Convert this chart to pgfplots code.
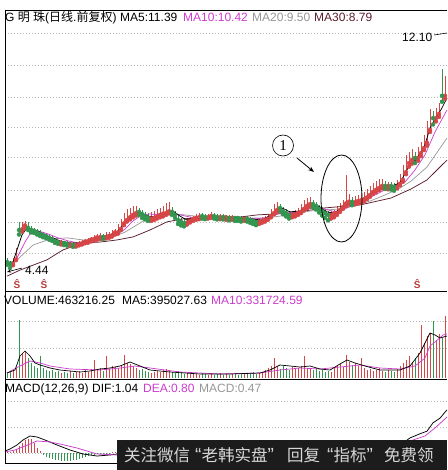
\documentclass[border=0pt]{standalone}
\usepackage{pgfplots}
\pgfplotsset{compat=1.18}
\usepackage{pgfplotstable}
\usepackage{fontspec}
\setmainfont{Liberation Sans}
\newfontfamily\cjk{Noto Sans CJK SC}
\newfontfamily\serifone{Liberation Serif}
\usetikzlibrary{arrows.meta}
\definecolor{candR}{RGB}{215,70,70}
\definecolor{candG}{RGB}{50,150,80}
\definecolor{maMag}{RGB}{204,60,204}
\definecolor{maGray}{RGB}{150,150,150}
\definecolor{maMar}{RGB}{90,30,45}
\definecolor{gridc}{RGB}{185,185,185}
\definecolor{wmbg}{RGB}{28,28,28}
\definecolor{wmtx}{RGB}{215,215,215}
\newcommand\tf{\fontsize{12}{12}\selectfont}

\pgfplotstableread{
i o c h l v m
0 4.70 4.64 4.78 4.55 40 0.02
1 4.62 4.57 4.66 4.44 48 0.02
2 4.57 4.70 4.76 4.53 64 0.04
3 4.72 5.04 5.10 4.70 80 0.08
4 5.85 5.70 5.95 5.55 464 0.13
5 5.72 5.83 5.98 5.65 200 0.19
6 5.85 5.87 6.00 5.75 216 0.25
7 5.90 5.77 5.95 5.70 160 0.27
8 5.78 5.70 5.82 5.62 120 0.27
9 5.74 5.67 5.78 5.60 96 0.19
10 5.70 5.63 5.74 5.55 80 0.10
11 5.66 5.57 5.70 5.50 176 0.04
12 5.58 5.53 5.62 5.46 80 -0.04
13 5.55 5.50 5.60 5.43 64 -0.08
14 5.52 5.44 5.56 5.38 56 -0.10
15 5.46 5.40 5.50 5.34 64 -0.12
16 5.40 5.33 5.45 5.27 48 -0.13
17 5.33 5.30 5.38 5.24 56 -0.13
18 5.28 5.30 5.36 5.22 40 -0.15
19 5.31 5.27 5.35 5.20 48 -0.15
20 5.28 5.24 5.32 5.18 40 -0.15
21 5.22 5.24 5.30 5.17 56 -0.15
22 5.25 5.20 5.29 5.14 40 -0.13
23 5.20 5.24 5.30 5.15 48 -0.13
24 5.23 5.27 5.33 5.19 56 -0.12
25 5.26 5.30 5.36 5.22 40 -0.10
26 5.31 5.33 5.40 5.26 64 -0.08
27 5.33 5.37 5.45 5.28 48 -0.06
28 5.38 5.40 5.48 5.32 72 -0.04
29 5.40 5.44 5.52 5.35 144 -0.03
30 5.45 5.47 5.56 5.38 64 -0.02
31 5.46 5.50 5.60 5.40 80 -0.02
32 5.52 5.47 5.56 5.40 56 -0.02
33 5.46 5.50 5.62 5.42 176 -0.01
34 5.50 5.53 5.65 5.44 72 -0.01
35 5.52 5.60 5.70 5.48 96 0.01
36 5.62 5.63 5.74 5.55 88 0.02
37 5.62 5.73 5.90 5.58 80 0.03
38 5.74 5.90 6.05 5.70 104 0.05
39 5.92 6.03 6.28 5.86 184 0.07
40 6.03 6.13 6.38 5.98 120 0.08
41 6.12 6.20 6.44 6.05 112 0.08
42 6.20 6.26 6.48 6.12 96 0.07
43 6.26 6.33 6.50 6.18 80 0.06
44 6.36 6.30 6.42 6.20 64 0.04
45 6.30 6.23 6.36 6.10 72 0.02
46 6.24 6.16 6.30 6.05 56 0.00
47 6.18 6.10 6.25 6.00 48 -0.02
48 6.08 6.10 6.30 6.00 40 -0.02
49 6.10 6.13 6.33 6.03 48 -0.01
50 6.14 6.20 6.40 6.08 56 0.00
51 6.20 6.23 6.42 6.12 48 0.01
52 6.24 6.26 6.50 6.15 64 0.02
53 6.26 6.33 6.60 6.20 72 0.02
54 6.32 6.36 6.62 6.25 56 0.02
55 6.38 6.30 6.45 6.20 48 0.01
56 6.30 6.20 6.34 6.10 40 0.00
57 6.20 6.03 6.24 5.90 56 -0.02
58 6.04 5.97 6.10 5.85 48 -0.03
59 5.98 5.93 6.05 5.82 32 -0.03
60 5.94 6.00 6.08 5.88 40 -0.03
61 6.00 6.07 6.14 5.95 32 -0.02
62 6.06 6.10 6.18 6.00 40 -0.01
63 6.10 6.13 6.22 6.04 32 -0.01
64 6.12 6.16 6.26 6.06 24 0.00
65 6.18 6.16 6.25 6.08 40 0.00
66 6.17 6.13 6.22 6.06 32 0.00
67 6.12 6.16 6.24 6.08 24 0.00
68 6.16 6.20 6.30 6.10 32 0.01
69 6.21 6.16 6.26 6.08 24 0.00
70 6.17 6.13 6.22 6.05 32 0.00
71 6.12 6.16 6.24 6.06 40 0.00
72 6.17 6.13 6.22 6.05 24 0.00
73 6.12 6.13 6.20 6.04 32 0.00
74 6.14 6.10 6.20 6.02 24 -0.01
75 6.10 6.13 6.21 6.04 32 0.00
76 6.14 6.10 6.18 6.00 40 -0.01
77 6.11 6.10 6.18 6.00 24 -0.01
78 6.10 6.07 6.16 5.98 32 -0.01
79 6.07 6.10 6.18 6.00 40 -0.01
80 6.10 6.07 6.15 5.98 32 -0.01
81 6.08 6.03 6.12 5.94 40 -0.02
82 6.04 6.00 6.10 5.90 48 -0.02
83 6.01 5.97 6.06 5.86 32 -0.02
84 5.97 6.00 6.08 5.90 40 -0.02
85 6.00 6.03 6.12 5.94 48 -0.01
86 6.03 6.07 6.16 5.98 64 0.00
87 6.07 6.16 6.24 6.04 80 0.01
88 6.16 6.26 6.38 6.12 96 0.03
89 6.26 6.36 6.55 6.22 160 0.04
90 6.36 6.46 6.62 6.30 88 0.05
91 6.48 6.43 6.55 6.32 72 0.04
92 6.42 6.33 6.46 6.22 96 0.02
93 6.33 6.26 6.38 6.15 80 0.01
94 6.26 6.20 6.32 6.08 64 0.00
95 6.20 6.23 6.32 6.12 88 0.00
96 6.22 6.26 6.36 6.15 72 0.01
97 6.26 6.30 6.42 6.20 80 0.01
98 6.30 6.40 6.55 6.26 96 0.02
99 6.40 6.50 6.68 6.35 176 0.03
100 6.50 6.56 6.75 6.42 80 0.04
101 6.56 6.60 6.78 6.48 72 0.04
102 6.62 6.56 6.70 6.45 64 0.03
103 6.56 6.50 6.62 6.38 80 0.02
104 6.50 6.40 6.54 6.28 56 0.00
105 6.40 6.33 6.45 6.18 64 -0.01
106 6.33 6.26 6.38 6.10 48 -0.02
107 6.26 6.20 6.32 6.02 56 -0.03
108 6.20 6.23 6.34 6.08 48 -0.02
109 6.24 6.26 6.36 6.12 80 -0.01
110 6.26 6.36 6.48 6.20 96 0.00
111 6.36 6.46 6.58 6.30 112 0.01
112 6.46 6.56 6.70 6.40 88 0.02
113 6.58 6.63 7.52 6.50 184 0.03
114 6.64 6.66 6.90 6.55 128 0.03
115 6.68 6.63 6.80 6.52 104 0.03
116 6.62 6.66 6.82 6.55 120 0.03
117 6.66 6.69 6.85 6.58 96 0.03
118 6.68 6.73 6.90 6.60 160 0.03
119 6.72 6.79 6.96 6.65 80 0.04
120 6.78 6.86 7.05 6.72 64 0.04
121 6.86 6.96 7.15 6.80 72 0.05
122 6.96 7.03 7.25 6.90 56 0.05
123 7.03 7.09 7.32 6.96 64 0.05
124 7.09 7.16 7.38 7.02 80 0.05
125 7.16 7.19 7.40 7.08 56 0.05
126 7.20 7.16 7.32 7.06 48 0.04
127 7.16 7.16 7.30 7.05 64 0.03
128 7.17 7.16 7.28 7.04 56 0.03
129 7.17 7.13 7.26 7.00 48 0.02
130 7.13 7.23 7.36 7.08 72 0.03
131 7.23 7.36 7.55 7.18 96 0.05
132 7.36 7.62 7.85 7.30 120 0.08
133 7.62 7.92 8.20 7.55 144 0.11
134 7.92 8.02 8.28 7.80 176 0.13
135 8.02 8.12 8.40 7.90 128 0.14
136 8.14 8.09 8.30 7.92 160 0.13
137 8.09 8.25 8.45 8.00 200 0.14
138 8.25 8.42 8.62 8.15 424 0.15
139 8.42 8.59 8.85 8.35 280 0.17
140 8.59 9.02 9.30 8.50 336 0.19
141 9.02 9.51 9.70 8.95 360 0.21
142 9.55 9.41 9.65 9.20 456 0.20
143 9.41 9.55 9.75 9.30 304 0.20
144 9.55 9.68 9.90 9.45 352 0.21
145 10.90 10.15 11.05 9.95 320 0.21
146 10.15 10.50 10.80 10.05 496 0.22
}\data

\pgfplotsset{
  panel/.style={scale only axis, width=442pt, xmin=-0.667, xmax=146.667,
    axis line style={draw=none}, tick style={draw=none}, xtick=\empty,
    yticklabels={}, ymajorgrids, clip=false,
    major grid style={gridc, line width=0.7pt, dash pattern=on 0.7pt off 2.3pt}},
}

\begin{document}
\begin{tikzpicture}
\path[use as bounding box] (0pt,0pt) rectangle (447pt,-470pt);

% ---------------- price panel
\begin{axis}[panel, at={(5pt,-291pt)}, anchor=south west, height=281pt,
  ymin=3.677, ymax=12.995,
  ytick={4.937,5.966,7.027,8.121,9.116,10.111,11.172,12.233}]
% wicks
\addplot[candR, only marks, mark=none, forget plot,
  restrict expr to domain={\thisrow{c}-\thisrow{o}}{0:100},
  error bars/.cd, y dir=plus, y explicit, error mark=none,
  error bar style={draw=candR, line width=0.45pt}]
  table[x=i, y=l, y error plus expr=\thisrow{h}-\thisrow{l}] {\data};
\addplot[candG, only marks, mark=none, forget plot,
  restrict expr to domain={\thisrow{c}-\thisrow{o}}{-100:-0.0001},
  error bars/.cd, y dir=plus, y explicit, error mark=none,
  error bar style={draw=candG, line width=0.45pt}]
  table[x=i, y=l, y error plus expr=\thisrow{h}-\thisrow{l}] {\data};
% bodies
\addplot[candR, only marks, mark=none, forget plot,
  restrict expr to domain={\thisrow{c}-\thisrow{o}}{0:100},
  error bars/.cd, y dir=plus, y explicit, error mark=none,
  error bar style={draw=candR, line width=1pt}]
  table[x=i, y=o, y error plus expr=\thisrow{c}-\thisrow{o}] {\data};
\addplot[candG, only marks, mark=none, forget plot,
  restrict expr to domain={\thisrow{c}-\thisrow{o}}{-100:-0.0001},
  error bars/.cd, y dir=plus, y explicit, error mark=none,
  error bar style={draw=candG, line width=1pt}]
  table[x=i, y=c, y error plus expr=\thisrow{o}-\thisrow{c}] {\data};
% MA30
\addplot[maMar, line width=0.75pt] coordinates {(0,4.17)(4.33,4.37)(13.33,4.71)(18.67,5.04)(25.33,5.27)(31,5.30)(36.67,5.37)(42,5.47)(47.67,5.70)(53.33,5.97)(58.67,6.07)(68.67,6.13)(77.67,6.13)(83.33,6.20)(94.67,6.26)(105.67,6.43)(117.67,6.53)(128,6.76)(134.67,7.06)(140,7.36)(146.67,8.02)};
% MA20
\addplot[maGray, line width=0.7pt] coordinates {(0,4.51)(2.67,4.64)(4.33,4.80)(8.67,5.20)(14.33,5.40)(20,5.44)(25.33,5.37)(29.33,5.37)(32.67,5.40)(36,5.50)(39.33,5.63)(42.67,5.83)(46,6.03)(49.33,6.13)(52.67,6.20)(56,6.23)(59.33,6.20)(62.67,6.16)(67.67,6.13)(74.33,6.10)(81,6.10)(86,6.10)(91,6.16)(96,6.23)(101,6.33)(106,6.36)(111,6.40)(116,6.50)(121,6.66)(126,6.86)(131,7.09)(134.67,7.32)(140,7.79)(146.67,8.75)};
% MA10
\addplot[maMag, line width=0.7pt] coordinates {(0,4.51)(2.67,4.64)(4.33,4.97)(6,5.30)(7.67,5.57)(10.33,5.67)(13.67,5.57)(17,5.44)(20.33,5.34)(23.67,5.27)(27,5.30)(30.33,5.37)(33.67,5.47)(37,5.57)(39.33,5.73)(42,6.00)(45,6.20)(47.67,6.23)(51,6.20)(54.33,6.23)(57.67,6.20)(61,6.13)(64.33,6.10)(71,6.13)(77.67,6.10)(82.67,6.07)(86,6.10)(89.33,6.20)(92.67,6.30)(96,6.26)(99.33,6.36)(102.67,6.46)(106,6.40)(109.33,6.30)(112.67,6.40)(116,6.56)(119.33,6.70)(122.67,6.86)(126,7.03)(129.33,7.13)(132.67,7.29)(136,7.69)(139.33,8.19)(142.67,8.95)(146.67,9.68)};
% MA5
\addplot[black, line width=0.75pt] coordinates {(0,4.64)(2,4.64)(3.33,5.04)(5,5.54)(6.67,5.77)(8.67,5.73)(11,5.63)(14.33,5.47)(17.67,5.34)(21,5.27)(24.33,5.27)(27.67,5.37)(31,5.47)(34.33,5.54)(36.67,5.63)(39.33,5.93)(42,6.20)(44.33,6.30)(47,6.16)(50,6.13)(53.33,6.26)(55.33,6.33)(57.67,6.16)(60,6.03)(63.33,6.10)(67.67,6.16)(74.33,6.13)(81,6.07)(85,6.03)(89,6.26)(91.67,6.43)(94.33,6.30)(97.67,6.33)(101,6.53)(103.67,6.50)(106.67,6.30)(109,6.26)(111.67,6.43)(114.33,6.60)(117.67,6.66)(121,6.86)(124.33,7.09)(128.33,7.16)(131,7.26)(133.67,7.76)(137,8.12)(139,8.42)(141,9.08)(143,9.41)(145,9.75)(146.67,10.08)};
% buy signals
\node[text=candR!85!black, font=\bfseries\fontsize{10}{10}\selectfont] at (axis cs:3.33,3.91) {Ŝ};
\node[text=candR!85!black, font=\bfseries\fontsize{10}{10}\selectfont] at (axis cs:12.33,3.91) {Ŝ};
\node[text=candR!85!black, font=\bfseries\fontsize{10}{10}\selectfont] at (axis cs:136.7,3.91) {Ŝ};
\end{axis}

% ---------------- volume panel
\begin{axis}[panel, at={(5pt,-379pt)}, anchor=south west, height=88pt,
  ymin=-8, ymax=696, ytick={240,456}]
\addplot[candR, ycomb, mark=none, line width=0.8pt, forget plot,
  restrict expr to domain={\thisrow{c}-\thisrow{o}}{0:100}]
  table[x=i, y=v] {\data};
\addplot[candG, ycomb, mark=none, line width=0.8pt, forget plot,
  restrict expr to domain={\thisrow{c}-\thisrow{o}}{-100:-0.0001}]
  table[x=i, y=v] {\data};
\addplot[maMag, line width=0.7pt] coordinates {(0,40)(4.33,96)(7.67,136)(11,120)(14.33,96)(21,72)(31,64)(37.67,80)(42.67,96)(47.67,80)(57.67,48)(71,32)(84.33,40)(91,64)(97.67,80)(104.33,72)(111,88)(117.67,104)(124.33,80)(131,72)(136,96)(139.33,160)(141,256)(142.67,288)(145.33,344)(146.67,352)};
\addplot[black, line width=0.7pt] coordinates {(0,40)(2.67,64)(4.33,176)(6,216)(7.67,176)(9.33,120)(11,104)(14.33,80)(17.67,64)(24.33,48)(27.67,56)(31,72)(34.33,80)(37.67,96)(41,128)(44.33,96)(47.67,64)(54.33,48)(64.33,32)(74.33,32)(84.33,40)(87.67,64)(91,104)(94.33,96)(97.67,88)(101,96)(104.33,72)(107.67,64)(111,112)(113.33,144)(116,120)(119.33,96)(124.33,64)(131,64)(134.33,96)(137.67,200)(139.33,280)(141,360)(142.67,344)(144.33,320)(146.67,336)};
\end{axis}

% ---------------- MACD panel
\begin{axis}[panel, at={(5pt,-463pt)}, anchor=south west, height=84pt,
  ymin=-0.1923, ymax=1.4231, ytick={0,0.5,1}]
\addplot[candR, ycomb, mark=none, line width=0.8pt, forget plot,
  restrict expr to domain={\thisrow{m}}{0:10}]
  table[x=i, y=m] {\data};
\addplot[candG, ycomb, mark=none, line width=0.8pt, forget plot,
  restrict expr to domain={\thisrow{m}}{-10:-0.0001}]
  table[x=i, y=m] {\data};
\addplot[black, line width=0.75pt] coordinates {(-0.67,0.038)(1,0.077)(3.33,0.154)(5.33,0.25)(7.67,0.327)(10,0.308)(12.67,0.25)(16.67,0.154)(21,0.058)(25.33,-0.019)(30,-0.058)(34.33,-0.038)(36.67,-0.019)(44.33,0)(54.33,0.02)(64.33,0)(74.33,-0.02)(84.33,-0.01)(94.33,0.04)(104.33,0.06)(114.33,0.08)(124.33,0.12)(131,0.15)(134.33,0.29)(137.67,0.37)(140,0.42)(142,0.58)(144.33,0.67)(146.67,0.83)};
\addplot[maMag, line width=0.75pt] coordinates {(-0.67,0.019)(2.67,0.058)(7.67,0.173)(10,0.231)(14.33,0.212)(17.67,0.173)(23.33,0.096)(30,-0.019)(36.67,-0.038)(47.67,-0.03)(64.33,-0.01)(81,-0.01)(97.67,0.03)(114.33,0.06)(127.67,0.1)(135.33,0.25)(139.33,0.327)(142.67,0.481)(146.67,0.692)};
\end{axis}

\begin{scope}[x=1pt, y=-1pt]
% ---------------- frame
\draw[black, line width=0.8pt] (5,10) -- (447,10);
\draw[black, line width=0.8pt] (5,10) -- (5,463);
\draw[black, line width=0.8pt] (5,291) -- (447,291);
\draw[black, line width=0.8pt] (5,379) -- (447,379);
\draw[black, line width=0.8pt] (5,463) -- (447,463);

% ---------------- titles
\node[anchor=base west, inner sep=0pt, font=\tf] at (5,21.5) {G {\cjk 明} {\cjk 珠}({\cjk 日线}.{\cjk 前复权})};
\node[anchor=base west, inner sep=0pt, font=\tf] at (120,21.5) {MA5:11.39};
\node[anchor=base west, inner sep=0pt, font=\tf, text=maMag] at (183,21.5) {MA10:10.42};
\node[anchor=base west, inner sep=0pt, font=\tf, text=maGray] at (252,21.5) {MA20:9.50};
\node[anchor=base west, inner sep=0pt, font=\tf, text=maMar] at (314,21.5) {MA30:8.79};

\node[anchor=base west, inner sep=0pt, font=\tf] at (4,304.5) {VOLUME:463216.25};
\node[anchor=base west, inner sep=0pt, font=\tf] at (122,304.5) {MA5:395027.63};
\node[anchor=base west, inner sep=0pt, font=\tf, text=maMag] at (211,304.5) {MA10:331724.59};

\node[anchor=base west, inner sep=0pt, font=\tf] at (5,392) {MACD(12,26,9)};
\node[anchor=base west, inner sep=0pt, font=\tf] at (92,392) {DIF:1.04};
\node[anchor=base west, inner sep=0pt, font=\tf, text=maMag] at (143,392) {DEA:0.80};
\node[anchor=base west, inner sep=0pt, font=\tf, text=maGray] at (199,392) {MACD:0.47};

% price labels
\node[anchor=base west, inner sep=0pt, font=\tf] at (25,274.5) {4.44};
\draw[line width=0.6pt, -{Stealth[length=4pt,width=3pt]}] (22,268) -- (7,272);
\node[anchor=base west, inner sep=0pt, font=\tf] at (402,41.5) {12.10};
\draw[line width=0.6pt] (434,35) -- (447,33);

% annotation
\node[circle, draw, line width=0.6pt, inner sep=0pt, minimum size=21pt,
  font=\serifone\fontsize{15}{15}\selectfont] at (283,145.5) {1};
\draw[line width=0.8pt, -{Stealth[length=6pt,width=4.5pt]}] (297,158) -- (314,172);
\draw[line width=0.8pt] (341.5,198.5) ellipse [x radius=20.5, y radius=43.5];

% watermark
\fill[wmbg] (117,440) rectangle (447,470);
\begin{scope}[every node/.style={anchor=west, inner sep=0pt, text=wmtx, font=\cjk\fontsize{16.5}{17}\selectfont}]
\node at (124,455) {关注微信};
\node at (195,455) {{\rmfamily\fontsize{19}{19}\selectfont “}老韩实盘{\rmfamily\fontsize{19}{19}\selectfont ”}};
\node at (287,455) {回复};
\node at (327,455) {{\rmfamily\fontsize{19}{19}\selectfont “}指标{\rmfamily\fontsize{19}{19}\selectfont ”}};
\node at (384,455) {免费领};
\end{scope}
\end{scope}
\end{tikzpicture}
\end{document}
